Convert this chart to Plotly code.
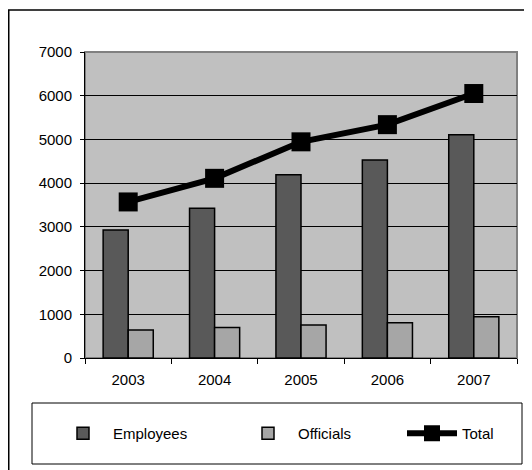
import plotly.graph_objects as go

years = ["2003", "2004", "2005", "2006", "2007"]
employees = [2930, 3425, 4190, 4530, 5105]
officials = [640, 695, 755, 808, 945]
total = [3570, 4110, 4945, 5338, 6050]

FONT = dict(family="Arial", size=15, color="black")

W, H = 524, 462
L, R, T, B = 77, 15, 44, 112
pw, ph = W - L - R, H - T - B

def px(x):
    return (x - L) / pw

def py(y):
    return (H - B - y) / ph

LEG_Y = py(425.5)

fig = go.Figure()
fig.add_trace(go.Bar(x=years, y=employees, name="Employees", legend="legend",
                     marker=dict(color="#595959", line=dict(color="black", width=1.5))))
fig.add_trace(go.Bar(x=years, y=officials, name="Officials", legend="legend2",
                     marker=dict(color="#A6A6A6", line=dict(color="black", width=1.5))))
fig.add_trace(go.Scatter(x=years, y=total, name="Total", mode="lines+markers", legend="legend3",
                         line=dict(color="black", width=6),
                         marker=dict(symbol="square", size=19, color="black")))

shapes = [
    # outer chart border
    dict(type="rect", xref="paper", yref="paper", x0=px(0.75), x1=px(540), y0=py(480), y1=py(2),
         line=dict(color="black", width=1.5), fillcolor="rgba(0,0,0,0)", layer="below"),
    # plot area border
    dict(type="rect", xref="paper", yref="paper", x0=0, x1=1, y0=0, y1=1,
         line=dict(color="#808080", width=2), fillcolor="rgba(0,0,0,0)", layer="below"),
    # legend box
    dict(type="rect", xref="paper", yref="paper", x0=px(24), x1=px(514), y0=py(456), y1=py(395),
         line=dict(color="black", width=1), fillcolor="white"),
]

def leg(xpix):
    return dict(orientation="h", x=px(xpix), xanchor="left", y=LEG_Y, yanchor="middle",
                bgcolor="rgba(0,0,0,0)", borderwidth=0, itemwidth=50, font=FONT)

fig.update_layout(
    width=W, height=H,
    margin=dict(l=L, r=R, t=T, b=B),
    paper_bgcolor="white",
    plot_bgcolor="#C0C0C0",
    font=FONT,
    barmode="group",
    bargap=0.42,
    bargroupgap=0,
    shapes=shapes,
    showlegend=True,
    legend=leg(45),
    legend2=leg(230),
    legend3=leg(394),
    xaxis=dict(type="category", showline=True, linecolor="black", linewidth=1,
               ticks="outside", tickson="boundaries", ticklen=5, tickcolor="black",
               showgrid=False, tickfont=FONT, ticklabelstandoff=8),
    yaxis=dict(range=[0, 7000], dtick=1000, showline=True, linecolor="black", linewidth=1,
               ticks="outside", ticklen=4, tickcolor="black", showgrid=True,
               gridcolor="black", gridwidth=1, zeroline=False, tickfont=FONT,
               ticklabelstandoff=5),
)

fig.write_html("out.html")
